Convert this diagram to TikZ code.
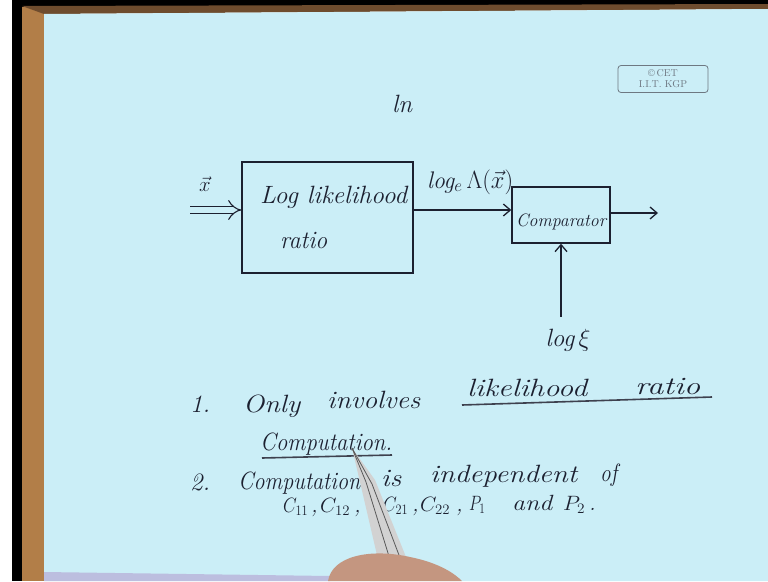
\documentclass[tikz,border=0pt]{standalone}
\usepackage{fontspec}
\usetikzlibrary{arrows.meta}
\definecolor{paper}{RGB}{203,238,247}
\definecolor{inkc}{RGB}{28,32,48}
\definecolor{wood}{RGB}{178,126,72}
\definecolor{woodd}{RGB}{110,76,46}
\definecolor{skin}{RGB}{196,150,128}
\definecolor{cpy}{RGB}{110,120,130}
\newcommand{\fitw}[2]{\resizebox{#1}{\height}{#2}}
\begin{document}
\begin{tikzpicture}[x=1pt,y=-1pt,
  hw/.style={text=inkc, font=\fontsize{25}{29}\selectfont\itshape, inner sep=0pt, anchor=base west},
  hwthree/.style={text=inkc, font=\fontsize{22}{25}\selectfont\itshape, inner sep=0pt, anchor=base west},
  hwsmall/.style={text=inkc, font=\fontsize{18}{21}\selectfont\itshape, inner sep=0pt, anchor=base west},
  box/.style={draw=inkc, line width=1.4pt, inner sep=0pt},
  conn/.style={draw=inkc, line width=1.3pt, -{Straight Barb[length=7pt,width=12pt]}},
  dbl/.style={draw=inkc, double=paper, double distance=6pt, line width=1.1pt, -{Implies}},
  ul/.style={draw=inkc!85, line width=1.6pt}]
\useasboundingbox (0,0) rectangle (768,581);
% background scene
\fill[white] (0,0) rectangle (768,581);
\fill[black] (12,0) rectangle (22,581);
\fill[black] (12,0) rectangle (768,7);
\fill[wood] (22,7) rectangle (44,581);
\fill[woodd] (22,6) -- (768,4) -- (768,9) -- (44,14) -- cycle;
\fill[paper] (44,14) -- (768,9) -- (768,581) -- (44,581) -- cycle;
\fill[paper!80!violet] (44,572) -- (330,576) -- (330,581) -- (44,581) -- cycle;
% copyright stamp
\node[draw=cpy, rounded corners=3pt, line width=0.8pt, text=cpy, align=center,
      font=\fontsize{10}{11}\selectfont, inner sep=2pt, minimum width=90pt, minimum height=27pt] (cp) at (663,79) {\textcopyright\,CET\\I.I.T. KGP};
% title
\node[hw] (ln) at (392,112) {ln};
% diagram
\node[box, minimum width=171pt, minimum height=111pt] (llr) at (327.5,217.5) {};
\node[hw] (t1) at (260,203) {\fitw{147pt}{Log likelihood}};
\node[hw] (t2) at (280,248) {\fitw{47pt}{ratio}};
\node[box, minimum width=98pt, minimum height=56pt] (cmp) at (561,215) {};
\node[hwsmall] (t3) at (516,226) {\fitw{90pt}{Comparator}};
\coordinate (xin) at (190,210);
\node[text=inkc, font=\fontsize{22}{26}\selectfont\itshape, inner sep=0pt] (xl) at (205,184) {$\vec{x}$};
\draw[dbl] (xin) -- (xin -| llr.west);
\draw[conn] (llr.east |- xin) -- (xin -| cmp.west);
\node[text=inkc, font=\fontsize{24}{28}\selectfont\itshape, inner sep=0pt, anchor=base west] (lam) at (427,188) {\fitw{86pt}{log$_e\,\Lambda(\vec{x})$}};
\coordinate (out) at (658,213);
\draw[conn] (cmp.east |- out) -- (out);
\node[text=inkc, font=\fontsize{25}{29}\selectfont\itshape, inner sep=0pt] (thr) at (568,340) {log\,$\xi$};
\draw[conn, shorten <=12pt] (thr.north -| cmp.south) -- (cmp.south);
% notes
\node[hw] (a1) at (190,412) {1.};
\node[hw] (a2) at (243,412) {\fitw{57pt}{Only}};
\node[hw] (a3) at (327,408) {\fitw{93pt}{involves}};
\node[hw] (a4) at (467,396) {\fitw{120pt}{likelihood}};
\node[hw] (a5) at (635,394) {\fitw{65pt}{ratio}};
\coordinate (u1) at (462,405);
\coordinate (u2) at (712,397);
\draw[ul] (u1) -- (u2);
\node[hw] (b1) at (260,450) {\fitw{132pt}{Computation.}};
\coordinate (u3) at (262,458);
\coordinate (u4) at (392,455);
\draw[ul] (u3) -- (u4);
\node[hw] (c1) at (190,490) {2.};
\node[hw] (c2) at (238,489) {\fitw{122pt}{Computation}};
\node[hw] (c3) at (381,486) {\fitw{20pt}{is}};
\node[hw] (c4) at (430,482) {\fitw{147pt}{independent}};
\node[hw] (c5) at (600,481) {\fitw{17pt}{of}};
\node[hwthree] (d1) at (283,512) {\fitw{25pt}{$C_{11}$}};
\node[hwthree] (k1) at (311,512) {,};
\node[hwthree] (d2) at (320,512) {\fitw{30pt}{$C_{12}$}};
\node[hwthree] (k2) at (354,512) {,};
\node[hwthree] (d3) at (383,511) {\fitw{25pt}{$C_{21}$}};
\node[hwthree] (k3) at (412,511) {,};
\node[hwthree] (d4) at (420,511) {\fitw{30pt}{$C_{22}$}};
\node[hwthree] (k4) at (456,511) {,};
\node[hwthree] (d5) at (469,510) {\fitw{16pt}{$P_1$}};
\node[hwthree] (d6) at (512,510) {\fitw{40pt}{and}};
\node[hwthree] (d7) at (563,510) {\fitw{22pt}{$P_2$}};
\node[hwthree] (k5) at (589,510) {.};
% pen and hand
\fill[gray!35] (352,448) -- (375,480) -- (408,562) -- (380,568) -- (360,482) -- cycle;
\draw[gray!70!black, line width=0.8pt] (352,448) -- (366,482) -- (392,566);
\draw[gray!70!black, line width=0.8pt] (352,448) -- (372,484) -- (402,563);
\fill[skin] (328,581) .. controls (332,556) and (370,548) .. (410,557) .. controls (440,563) and (455,574) .. (462,581) -- cycle;
\end{tikzpicture}
\end{document}
